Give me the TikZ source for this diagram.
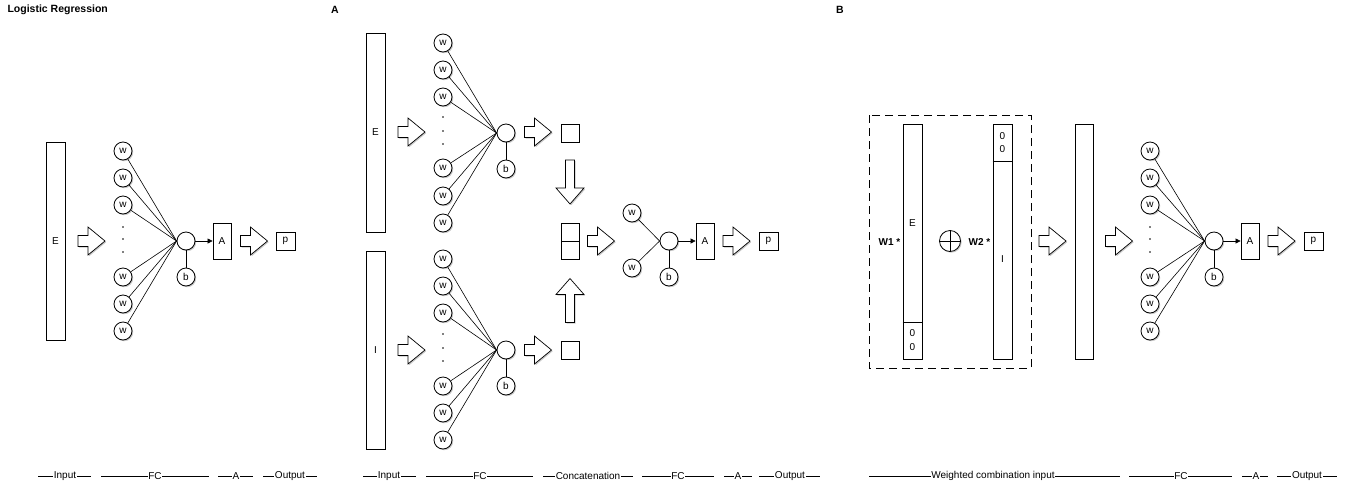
\documentclass[tikz,border=0pt]{standalone}
\usepackage{fontspec}
\setmainfont{Liberation Sans}
\usetikzlibrary{arrows.meta,shadows}
\begin{document}
\begin{tikzpicture}[x=1pt,y=-1pt,
  every node/.style={font=\fontsize{10}{12}\selectfont},
  sh/.style={drop shadow={shadow xshift=1.2pt,shadow yshift=-1.2pt,opacity=0.22,fill=black}},
  box/.style={draw,fill=white,sh,inner sep=0pt,line width=0.8pt},
  neu/.style={circle,draw,fill=white,sh,inner sep=0pt,minimum size=18pt,line width=0.8pt},
  wire/.style={line width=0.6pt},
  lab/.style={fill=white,inner sep=0.8pt},
  ttl/.style={font=\fontsize{10.5}{12}\selectfont\bfseries},
  rarrow/.pic={\draw[fill=white,line width=0.7pt,sh] (-13.5,-5.5) -- (-3.5,-5.5) -- (-3.5,-14) -- (13.5,0) -- (-3.5,14) -- (-3.5,5.5) -- (-13.5,5.5) -- cycle;},
  darrow/.pic={\draw[fill=white,line width=0.7pt,sh] (-4.5,-22) -- (4.5,-22) -- (4.5,6) -- (14,6) -- (0,22) -- (-14,6) -- (-4.5,6) -- cycle;},
  uarrow/.pic={\draw[fill=white,line width=0.7pt,sh] (-4.5,22) -- (4.5,22) -- (4.5,-6) -- (14,-6) -- (0,-22) -- (-14,-6) -- (-4.5,-6) -- cycle;},
  dot/.style={circle,fill=black,inner sep=0pt,minimum size=1.8pt},
  tip/.style={-{Triangle[length=5pt,width=5pt]},line width=0.6pt}
]
\useasboundingbox (0,0) rectangle (1347,488);
\newcommand\seg[5]{\draw[line width=0.6pt] (#1,476) -- (#2,476); \node[lab] (#5) at (#3,476) {#4};}

% ---------------- Titles
\node[ttl,anchor=west] (t1) at (4,10) {Logistic Regression};
\node[ttl] (t2) at (335,10) {A};
\node[ttl] (t3) at (840,10) {B};

% ---------------- Panel 1
\node[box,minimum width=19pt,minimum height=198pt] (pE) at (55.5,241) {E};
\pic at (91.5,241) {rarrow};
\foreach \y [count=\i] in {151,178,205,277,304,331} \node[neu] (pw\i) at (123,\y) {w};
\foreach \y [count=\i] in {227,239,252} \node[dot] (pd\i) at (123,\y) {};
\node[neu] (ps) at (186,241) {};
\node[neu] (pb) at (186,277) {b};
\foreach \i in {1,...,6} \draw[wire] (pw\i) -- (ps.west);
\draw[wire] (ps) -- (pb);
\node[box,minimum width=18pt,minimum height=36pt] (pA) at (222,241) {A};
\draw[tip] (ps) -- (pA);
\pic at (254,241) {rarrow};
\node[box,minimum width=19pt,minimum height=18pt] (pp) at (285.5,241) {p};
\seg{38}{91}{65}{Input}{l1}
\seg{101}{209}{155}{FC}{l2}
\seg{218}{253}{236}{A}{l3}
\seg{263}{317}{290}{Output}{l4}

% ---------------- Panel A
\node[box,minimum width=19pt,minimum height=199pt] (aE) at (375.5,132.5) {E};
\node[box,minimum width=19pt,minimum height=198pt] (aI) at (375.5,350) {I};
\pic at (411.5,132) {rarrow};
\pic at (411.5,350) {rarrow};
\foreach \y [count=\i] in {43,70,97,168,196,223} \node[neu] (aw\i) at (443,\y) {w};
\foreach \y [count=\i] in {117,131,144} \node[dot] (ad\i) at (443,\y) {};
\node[neu] (as) at (506,133) {};
\node[neu] (ab) at (506,169) {b};
\foreach \i in {1,...,6} \draw[wire] (aw\i) -- (as.west);
\draw[wire] (as) -- (ab);
\foreach \y [count=\i] in {259,286,313,386,413,440} \node[neu] (av\i) at (443,\y) {w};
\foreach \y [count=\i] in {334,348,361} \node[dot] (ae\i) at (443,\y) {};
\node[neu] (at) at (506,350) {};
\node[neu] (ac) at (506,386) {b};
\foreach \i in {1,...,6} \draw[wire] (av\i) -- (at.west);
\draw[wire] (at) -- (ac);
\pic at (538,132) {rarrow};
\pic at (538,350) {rarrow};
\node[box,minimum size=18pt] (aq1) at (570,133) {};
\node[box,minimum size=18pt] (aq2) at (570,350) {};
\pic at (570,182) {darrow};
\pic at (570,300.5) {uarrow};
\node[box,minimum width=18pt,minimum height=18pt] (ac1) at (570,232) {};
\node[box,minimum width=18pt,minimum height=18pt] (ac2) at (570,250) {};
\pic at (601,241) {rarrow};
\node[neu] (ax1) at (632,213) {w};
\node[neu] (ax2) at (632,268) {w};
\node[neu] (au) at (669,241) {};
\node[neu] (ay) at (669,277) {b};
\draw[wire] (ax1) -- (au.west);
\draw[wire] (ax2) -- (au.west);
\draw[wire] (au) -- (ay);
\node[box,minimum width=18pt,minimum height=36pt] (aA) at (705,241) {A};
\draw[tip] (au) -- (aA);
\pic at (736.5,241) {rarrow};
\node[box,minimum width=19pt,minimum height=18pt] (ap) at (768.5,241) {p};
\seg{363}{416}{389}{Input}{m1}
\seg{426}{533}{480}{FC}{m2}
\seg{543}{633}{588}{Concatenation}{m3}
\seg{642}{714}{678}{FC}{m4}
\seg{724}{752}{738}{A}{m5}
\seg{759}{820}{790}{Output}{m6}

% ---------------- Panel B
\draw[line width=0.7pt,dash pattern=on 8pt off 5pt] (869,115) rectangle (1031,368);
\node[box,minimum width=19pt,minimum height=235pt] (bE) at (912.5,241.5) {};
\draw[line width=0.8pt] (bE.west |- 0,322) -- (bE.east |- 0,322);
\node (bEl) at (912.5,223) {E};
\node[align=center,font=\fontsize{10}{13.5}\selectfont] (bEz) at (912.5,340) {0\\0};
\node[box,minimum width=19pt,minimum height=235pt] (bI) at (1002.5,241.5) {};
\draw[line width=0.8pt] (bI.west |- 0,161) -- (bI.east |- 0,161);
\node (bIl) at (1002.5,259) {I};
\node[align=center,font=\fontsize{10}{13.5}\selectfont] (bIz) at (1002.5,142.5) {0\\0};
\node[font=\fontsize{10}{12}\selectfont\bfseries] (bw1) at (889.5,242) {W1 *};
\node[font=\fontsize{10}{12}\selectfont\bfseries] (bw2) at (979.5,242) {W2 *};
\node[circle,draw,fill=white,sh,inner sep=0pt,minimum size=21pt,line width=0.8pt] (bo) at (950,241) {};
\draw[line width=0.8pt] (bo.north) -- (bo.south) (bo.west) -- (bo.east);
\pic at (1052.5,241) {rarrow};
\node[box,minimum width=18pt,minimum height=235pt] (bC) at (1084,241.5) {};
\pic at (1119,241) {rarrow};
\foreach \y [count=\i] in {151,178,205,277,304,331} \node[neu] (bv\i) at (1150,\y) {w};
\foreach \y [count=\i] in {227,239,252} \node[dot] (bd\i) at (1150,\y) {};
\node[neu] (bs) at (1214,241) {};
\node[neu] (bb) at (1214,277) {b};
\foreach \i in {1,...,6} \draw[wire] (bv\i) -- (bs.west);
\draw[wire] (bs) -- (bb);
\node[box,minimum width=18pt,minimum height=36pt] (bA) at (1250,241) {A};
\draw[tip] (bs) -- (bA);
\pic at (1281.5,241) {rarrow};
\node[box,minimum width=19pt,minimum height=18pt] (bp) at (1313.5,241) {p};
\seg{869}{1120}{993}{Weighted combination input}{n1}
\seg{1129}{1232}{1181}{FC}{n2}
\seg{1242}{1268}{1256}{A}{n3}
\seg{1277}{1337}{1307}{Output}{n4}
\end{tikzpicture}
\end{document}
